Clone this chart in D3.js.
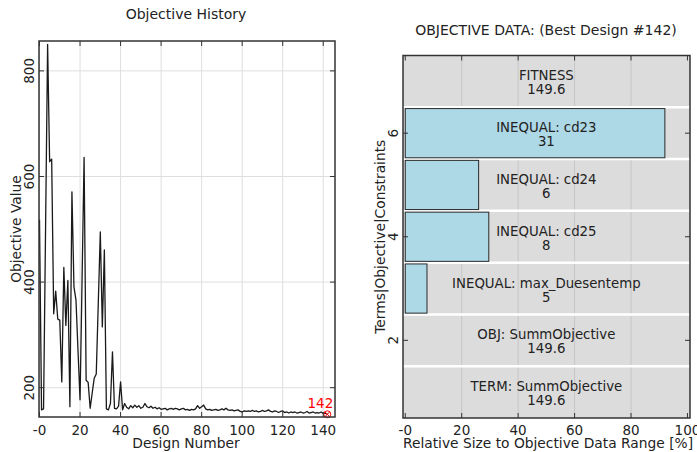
<!DOCTYPE html>
<html>
<head>
<meta charset="utf-8">
<script src="https://cdn.jsdelivr.net/npm/d3@7"></script>
<style>
  body { margin: 0; background: #fff; }
  svg { display: block; font-family: "DejaVu Sans", Verdana, sans-serif; }
  text { fill: #222; }
</style>
</head>
<body>
<div class="vis"></div>
<script>
// Objective history (design 0..142)
const objectiveValues = [
  518, 158, 160, 505, 850, 628, 633, 340, 383, 330,
  328, 211, 428, 318, 403, 164, 571, 391, 366, 270,
  177, 405, 636, 214, 210, 161, 190, 218, 226, 360,
  495, 315, 461, 160, 158, 170, 268, 161, 160, 165,
  211, 158, 170, 163, 160, 166, 162, 167, 163, 166,
  161, 163, 170, 164, 162, 165, 161, 163, 160, 162,
  159, 160, 161, 158, 160, 161, 159, 161, 160, 158,
  160, 161, 158, 159, 157, 159, 158, 160, 166, 161,
  164, 167, 160, 158, 159, 157, 158, 159, 157, 158,
  160, 158, 161, 158, 157, 158, 156, 157, 158, 155,
  154, 156, 155, 156, 155, 157, 155, 156, 154, 155,
  157, 155, 156, 158, 155, 154, 156, 155, 153, 155,
  156, 153, 154, 152, 154, 153, 154, 152, 153, 154,
  152, 153, 155, 152, 153, 154, 152, 153, 152, 154,
  151, 152, 149.6
];
const bestDesign = 142;
const historyXTicks = [0, 20, 40, 60, 80, 100, 120, 140];
const historyXTickLabels = ["-0", "20", "40", "60", "80", "100", "120", "140"];
const historyYTicks = [200, 400, 600, 800];

// Objective data of best design
const termNames = ["TERM: SummObjective", "OBJ: SummObjective", "INEQUAL: max_Duesentemp",
  "INEQUAL: cd25", "INEQUAL: cd24", "INEQUAL: cd23", "FITNESS"];
const termValues = ["149.6", "149.6", "5", "8", "6", "31", "149.6"];
const termPercent = [0, 0, 7.7, 29.6, 26, 92, 0];
const dataXTicks = [0, 20, 40, 60, 80, 100];
const dataXTickLabels = ["-0", "20", "40", "60", "80", "100"];
const dataYTicks = [2, 4, 6];

const W = 697, H = 452;
const svg = d3.select('.vis').append('svg').attr('width', W).attr('height', H);

const tickLen = 5;
const frameColor = '#333';
const tickFont = '13.5px', labelFont = '13.8px', titleFont = '14px';

// ---------- Left: Objective History ----------
const L = { x0: 39, x1: 335, y0: 41, y1: 417 };
const x1 = d3.scaleLinear().domain([-0.25, 145.8]).range([L.x0, L.x1]);
const y1 = d3.scaleLinear().domain([144.5, 856.6]).range([L.y1, L.y0]);

const left = svg.append('g');

// grid
left.selectAll('.vgrid').data(historyXTicks).enter().append('line')
  .attr('x1', d => x1(d)).attr('x2', d => x1(d))
  .attr('y1', L.y0).attr('y2', L.y1)
  .attr('stroke', '#dedede').attr('stroke-width', 1);
left.selectAll('.hgrid').data(historyYTicks).enter().append('line')
  .attr('y1', d => y1(d)).attr('y2', d => y1(d))
  .attr('x1', L.x0).attr('x2', L.x1)
  .attr('stroke', '#dedede').attr('stroke-width', 1);

// line
const line = d3.line().x((d, i) => x1(i)).y(d => y1(d));
left.append('path')
  .datum(objectiveValues)
  .attr('d', line)
  .attr('fill', 'none')
  .attr('stroke', '#1a1a1a')
  .attr('stroke-width', 1.3)
  .attr('stroke-linejoin', 'round');

// best marker
const bx = x1(bestDesign), by = y1(objectiveValues[bestDesign]);
left.append('circle').attr('cx', bx).attr('cy', by).attr('r', 3.5)
  .attr('fill', 'none').attr('stroke', '#f00').attr('stroke-width', 1);
left.append('path')
  .attr('d', `M${bx - 2.4},${by - 2.4}L${bx + 2.4},${by + 2.4}M${bx - 2.4},${by + 2.4}L${bx + 2.4},${by - 2.4}`)
  .attr('stroke', '#f00').attr('stroke-width', 1);
left.append('text')
  .attr('x', bx + 6).attr('y', by - 6)
  .attr('text-anchor', 'end')
  .style('font-size', tickFont)
  .style('fill', '#f00')
  .text(bestDesign);

// frame
left.append('rect')
  .attr('x', L.x0).attr('y', L.y0)
  .attr('width', L.x1 - L.x0).attr('height', L.y1 - L.y0)
  .attr('fill', 'none').attr('stroke', frameColor).attr('stroke-width', 1.5);

// inward ticks on all sides
historyXTicks.forEach(t => {
  left.append('line').attr('x1', x1(t)).attr('x2', x1(t))
    .attr('y1', L.y1).attr('y2', L.y1 - tickLen).attr('stroke', frameColor);
  left.append('line').attr('x1', x1(t)).attr('x2', x1(t))
    .attr('y1', L.y0).attr('y2', L.y0 + tickLen).attr('stroke', frameColor);
});
historyYTicks.forEach(t => {
  left.append('line').attr('y1', y1(t)).attr('y2', y1(t))
    .attr('x1', L.x0).attr('x2', L.x0 + tickLen).attr('stroke', frameColor);
  left.append('line').attr('y1', y1(t)).attr('y2', y1(t))
    .attr('x1', L.x1).attr('x2', L.x1 - tickLen).attr('stroke', frameColor);
});

// tick labels
left.selectAll('.xlab').data(historyXTicks).enter().append('text')
  .attr('x', d => x1(d)).attr('y', 434.5)
  .attr('text-anchor', 'middle')
  .style('font-size', tickFont)
  .text((d, i) => historyXTickLabels[i]);
left.selectAll('.ylab').data(historyYTicks).enter().append('text')
  .attr('transform', d => `translate(33.5,${y1(d)}) rotate(-90)`)
  .attr('text-anchor', 'middle')
  .style('font-size', tickFont)
  .text(d => d);

// axis titles
left.append('text')
  .attr('x', 186).attr('y', 447.5)
  .attr('text-anchor', 'middle').style('font-size', labelFont)
  .text('Design Number');
left.append('text')
  .attr('transform', `translate(20.5,${(L.y0 + L.y1) / 2}) rotate(-90)`)
  .attr('text-anchor', 'middle').style('font-size', labelFont)
  .text('Objective Value');
left.append('text')
  .attr('x', 186).attr('y', 19)
  .attr('text-anchor', 'middle').style('font-size', titleFont)
  .text('Objective History');

// ---------- Right: Objective Data ----------
const R = { x0: 403, x1: 690, y0: 55.5, y1: 418 };
const x2 = d3.scaleLinear().domain([-0.8, 100.9]).range([R.x0, R.x1]);
const y2 = d3.scaleLinear().domain([0.5, 7.5]).range([R.y1, R.y0]);
const rows = termNames.map((n, i) => ({ row: i + 1, name: n, value: termValues[i], pct: termPercent[i] }));

const right = svg.append('g');

right.append('rect')
  .attr('x', R.x0).attr('y', R.y0)
  .attr('width', R.x1 - R.x0).attr('height', R.y1 - R.y0)
  .attr('fill', '#dcdcdc');

// vertical grid
right.selectAll('.vgrid').data(dataXTicks.slice(1, -1)).enter().append('line')
  .attr('x1', d => x2(d)).attr('x2', d => x2(d))
  .attr('y1', R.y0).attr('y2', R.y1)
  .attr('stroke', '#c6c6c6').attr('stroke-width', 1);

// white row separators
right.selectAll('.sep').data(d3.range(1.5, 7, 1)).enter().append('line')
  .attr('x1', R.x0).attr('x2', R.x1)
  .attr('y1', d => y2(d)).attr('y2', d => y2(d))
  .attr('stroke', '#fff').attr('stroke-width', 2.5);

// bars
const half = 0.475;
right.selectAll('.bar').data(rows.filter(d => d.pct > 0)).enter().append('rect')
  .attr('x', x2(0))
  .attr('y', d => y2(d.row + half))
  .attr('width', d => x2(d.pct) - x2(0))
  .attr('height', d => y2(d.row - half) - y2(d.row + half))
  .attr('fill', '#add8e6')
  .attr('stroke', '#2a2a2a').attr('stroke-width', 1);

// labels
right.selectAll('.name').data(rows).enter().append('text')
  .attr('x', x2(50)).attr('y', d => y2(d.row) - 5)
  .attr('dominant-baseline', 'middle')
  .attr('text-anchor', 'middle').style('font-size', '13.3px')
  .text(d => d.name);
right.selectAll('.val').data(rows).enter().append('text')
  .attr('x', x2(50)).attr('y', d => y2(d.row) + 9)
  .attr('dominant-baseline', 'middle')
  .attr('text-anchor', 'middle').style('font-size', '13.3px')
  .text(d => d.value);

// frame
right.append('rect')
  .attr('x', R.x0).attr('y', R.y0)
  .attr('width', R.x1 - R.x0).attr('height', R.y1 - R.y0)
  .attr('fill', 'none').attr('stroke', frameColor).attr('stroke-width', 1.5);

dataXTicks.forEach(t => {
  right.append('line').attr('x1', x2(t)).attr('x2', x2(t))
    .attr('y1', R.y1).attr('y2', R.y1 - tickLen).attr('stroke', frameColor);
  right.append('line').attr('x1', x2(t)).attr('x2', x2(t))
    .attr('y1', R.y0).attr('y2', R.y0 + tickLen).attr('stroke', frameColor);
});
dataYTicks.forEach(t => {
  right.append('line').attr('y1', y2(t)).attr('y2', y2(t))
    .attr('x1', R.x0).attr('x2', R.x0 + tickLen).attr('stroke', frameColor);
  right.append('line').attr('y1', y2(t)).attr('y2', y2(t))
    .attr('x1', R.x1).attr('x2', R.x1 - tickLen).attr('stroke', frameColor);
});

right.selectAll('.xlab').data(dataXTicks).enter().append('text')
  .attr('x', d => x2(d)).attr('y', 434.5)
  .attr('text-anchor', 'middle').style('font-size', tickFont)
  .text((d, i) => dataXTickLabels[i]);
right.selectAll('.ylab').data(dataYTicks).enter().append('text')
  .attr('transform', d => `translate(397.5,${y2(d)}) rotate(-90)`)
  .attr('text-anchor', 'middle').style('font-size', tickFont)
  .text(d => d);

right.append('text')
  .attr('x', 548).attr('y', 447.5)
  .attr('text-anchor', 'middle').style('font-size', labelFont)
  .text('Relative Size to Objective Data Range [%]');
right.append('text')
  .attr('transform', `translate(385,${(R.y0 + R.y1) / 2}) rotate(-90)`)
  .attr('text-anchor', 'middle').style('font-size', labelFont)
  .text('Terms|Objective|Constraints');
right.append('text')
  .attr('x', 546).attr('y', 35)
  .attr('text-anchor', 'middle').style('font-size', titleFont)
  .text('OBJECTIVE DATA: (Best Design #142)');
</script>
</body>
</html>
